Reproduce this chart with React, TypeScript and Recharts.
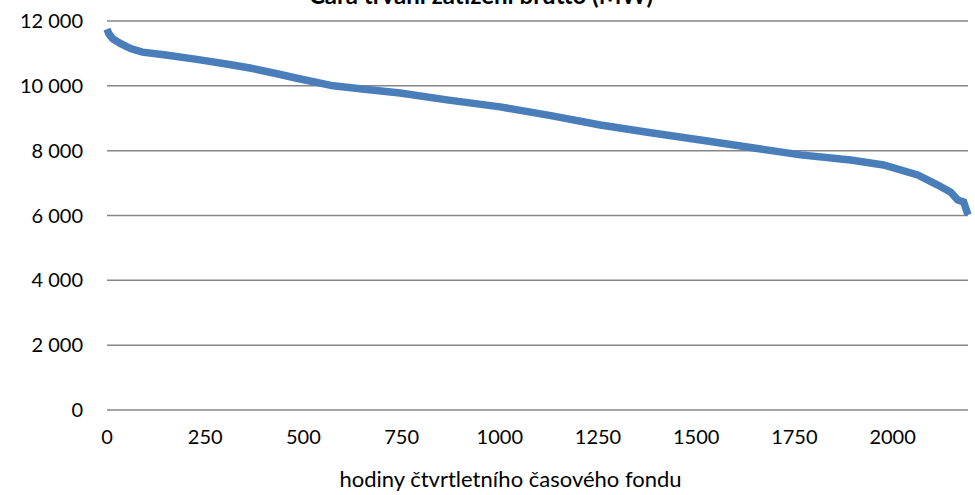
import { LineChart, Line, XAxis, YAxis, CartesianGrid } from "recharts"

// hours of the quarter, sorted by load (duration curve)
const hodiny = [
  0, 5, 15, 35, 60, 90, 150, 237, 300, 364, 430, 492, 576, 650, 746, 870,
  1001, 1130, 1256, 1380, 1511, 1664, 1766, 1893, 1977, 2064, 2115, 2148,
  2166, 2181, 2192,
]
const zatizeni = [
  11750, 11600, 11450, 11300, 11150, 11040, 10950, 10800, 10680, 10550,
  10380, 10210, 10000, 9900, 9780, 9560, 9350, 9080, 8790, 8560, 8330, 8050,
  7870, 7710, 7560, 7250, 6940, 6720, 6480, 6420, 6020,
]
const xTicks = [0, 250, 500, 750, 1000, 1250, 1500, 1750, 2000]
const yTicks = [0, 2000, 4000, 6000, 8000, 10000, 12000]

const data = hodiny.map((h, i) => ({ h, mw: zatizeni[i] }))

const font = "Lato, 'DejaVu Sans', sans-serif"
const fmt = (v: number) => v.toLocaleString("en-US").replace(/,/g, " ")

export default function App() {
  return (
    <div style={{ position: "absolute", left: 0, top: 0, width: 975, height: 495, background: "#fff", fontFamily: font }}>
      <div
        style={{
          position: "absolute",
          top: -20,
          left: 0,
          width: 962,
          textAlign: "center",
          fontWeight: 700,
          fontSize: 24,
          color: "#000",
          lineHeight: "30px",
        }}
      >
        Čára trvání zatížení brutto (MW)
      </div>
      <LineChart width={975} height={495} data={data} margin={{ top: 21, right: 7, left: 0, bottom: 0 }}>
        <CartesianGrid vertical={false} stroke="#868686" strokeWidth={1.5} />
        <XAxis
          dataKey="h"
          type="number"
          domain={[0, 2192]}
          ticks={xTicks}
          axisLine={false}
          tickLine={false}
          tickSize={0}
          tickMargin={20}
          height={85}
          tick={{ fill: "#000", fontSize: 20, fontFamily: font }}
          label={{
            value: "hodiny čtvrtletního časového fondu",
            position: "insideBottom",
            offset: 8,
            dx: -27,
            fill: "#000",
            fontSize: 22,
            fontFamily: font,
          }}
        />
        <YAxis
          type="number"
          domain={[0, 12000]}
          ticks={yTicks}
          tickFormatter={fmt}
          axisLine={false}
          tickLine={false}
          tickSize={0}
          tickMargin={24}
          width={107}
          tick={{ fill: "#000", fontSize: 20, fontFamily: font }}
        />
        <Line
          dataKey="mw"
          type="linear"
          stroke="#4A7EBB"
          strokeWidth={7.5}
          dot={false}
          isAnimationActive={false}
        />
      </LineChart>
    </div>
  )
}
